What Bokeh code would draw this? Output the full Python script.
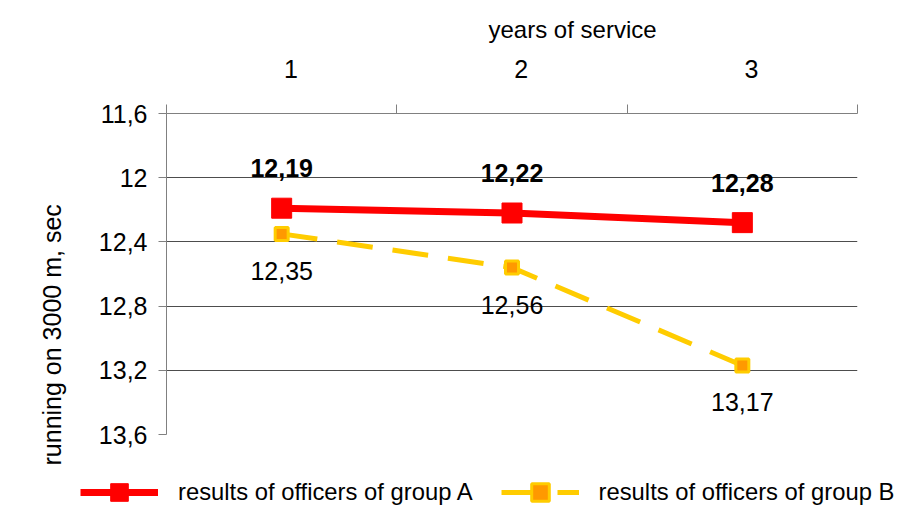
from bokeh.plotting import figure
from bokeh.models import (Range1d, FixedTicker, CustomJSTickFormatter, Legend, LegendItem,
                          Title, ColumnDataSource)
from bokeh.core.properties import value
from bokeh.embed import file_html
from bokeh.resources import INLINE

# ---- data ----
years = [1, 2, 3]
group_a = [12.19, 12.22, 12.28]
group_b = [12.35, 12.56, 13.17]
y_ticks = [11.6, 12.0, 12.4, 12.8, 13.2, 13.6]
name_a = "results of officers of group A"
name_b = "results of officers of group B"
x_title = "years of service"
y_title = "running on 3000 m, sec"

FONT = "Liberation Sans"
GRAY = "#808080"
RED = "#FF0000"
YELLOW = "#FFCC00"
ORANGE = "#FF9900"

def fmt(v):
    return ("%.2f" % v).replace(".", ",")

src_a = ColumnDataSource(dict(x=years, y=group_a, t=[fmt(v) for v in group_a]))
src_b = ColumnDataSource(dict(x=years, y=group_b, t=[fmt(v) for v in group_b]))

p = figure(width=900, height=470, output_backend="svg", toolbar_location=None,
           x_range=Range1d(0.5, 3.5), y_range=Range1d(y_ticks[-1], y_ticks[0]),
           x_axis_location="above", y_axis_location="left",
           min_border_left=166, min_border_right=43, min_border_top=112, min_border_bottom=36)
p.outline_line_color = None
p.background_fill_color = "white"
p.border_fill_color = "white"

# top (category) axis; labels nudged slightly right as in the reference
xa = p.xaxis[0]
xa.ticker = FixedTicker(ticks=[y + 0.04 for y in years], minor_ticks=[0.5, 1.5, 2.5, 3.5])
xa.formatter = CustomJSTickFormatter(code="return Math.round(tick).toString();")
xa.major_tick_out = 0
xa.major_tick_in = 0
xa.minor_tick_out = 9
xa.minor_tick_in = 0
xa.minor_tick_line_color = GRAY
xa.axis_line_color = GRAY
xa.major_label_standoff = 27
xa.major_label_text_font = FONT
xa.major_label_text_font_size = "25px"
xa.major_label_text_color = "black"

# left axis
ya = p.yaxis[0]
ya.ticker = FixedTicker(ticks=y_ticks)
ya.formatter = CustomJSTickFormatter(code="return (Math.round(tick*10)/10).toString().replace('.', ',');")
ya.major_tick_out = 8
ya.major_tick_in = 0
ya.minor_tick_out = 0
ya.minor_tick_in = 0
ya.major_tick_line_color = GRAY
ya.axis_line_color = GRAY
ya.major_label_standoff = 11
ya.major_label_text_font = FONT
ya.major_label_text_font_size = "25px"
ya.major_label_text_color = "black"

p.xgrid.visible = False
p.ygrid.ticker = FixedTicker(ticks=y_ticks)
p.ygrid.grid_line_color = "#4d4d4d"

# series
p.line("x", "y", source=src_b, line_color=YELLOW, line_width=5, line_dash="36 20")
p.scatter("x", "y", source=src_b, marker="square", size=13, fill_color=ORANGE,
          line_color=YELLOW, line_width=3)
p.line("x", "y", source=src_a, line_color=RED, line_width=7)
p.scatter("x", "y", source=src_a, marker="square", size=20, fill_color=RED,
          line_color=RED, line_width=1)

p.text("x", "y", text="t", source=src_a, y_offset=-40, text_align="center",
       text_baseline="middle", text_font=value(FONT), text_font_size="25px",
       text_font_style="bold", text_color="black")
p.text("x", "y", text="t", source=src_b, y_offset=37, text_align="center",
       text_baseline="middle", text_font=value(FONT), text_font_size="25px",
       text_color="black")

# axis titles (side-panel titles, shifted along the axis as in the reference)
p.add_layout(Title(text=x_title, align="left", offset=322, standoff=27,
                   text_font=FONT, text_font_size="24px", text_font_style="normal",
                   text_color="black"), "above")
p.add_layout(Title(text=y_title, align="left", offset=-31, standoff=60,
                   text_font=FONT, text_font_size="25px", text_font_style="normal",
                   text_color="black"), "left")

# ---- legend strip below the chart ----
q = figure(width=900, height=38, output_backend="svg", toolbar_location=None,
           x_range=Range1d(0, 1), y_range=Range1d(0, 1),
           x_axis_type=None, y_axis_type=None,
           min_border_left=0, min_border_right=0, min_border_top=0, min_border_bottom=0)
q.outline_line_color = None
q.xgrid.visible = False
q.ygrid.visible = False
nan = float("nan")
empty = ColumnDataSource(dict(x=[nan], y=[nan]))
qa_l = q.line("x", "y", source=empty, line_color=RED, line_width=7)
qa_s = q.scatter("x", "y", source=empty, marker="square", size=20, fill_color=RED,
                 line_color=RED, line_width=1)
qb_l = q.line("x", "y", source=empty, line_color=YELLOW, line_width=5, line_dash="36 20")
qb_s = q.scatter("x", "y", source=empty, marker="square", size=13, fill_color=ORANGE,
                 line_color=YELLOW, line_width=3)

legend = Legend(items=[LegendItem(label=name_a, renderers=[qa_l, qa_s]),
                       LegendItem(label=name_b, renderers=[qb_l, qb_s])],
                orientation="horizontal", location=(80, -6),
                glyph_width=78, glyph_height=44, label_standoff=20, spacing=28,
                padding=0, margin=0, border_line_color=None, background_fill_alpha=0,
                label_text_font=FONT, label_text_font_size="23.8px", label_text_color="black")
q.add_layout(legend)

open("out.html", "w").write(file_html([p, q], INLINE))
